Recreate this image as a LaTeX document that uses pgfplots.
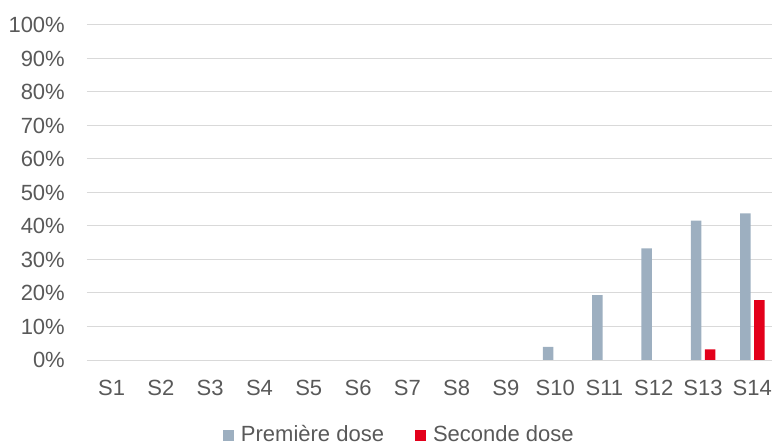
\documentclass[border=0pt]{standalone}
\usepackage{pgfplots}
\pgfplotsset{compat=1.18}
\usepackage{fontspec}
\setmainfont{Liberation Sans}
\definecolor{txt}{HTML}{595959}
\definecolor{gridc}{HTML}{D9D9D9}
\definecolor{c1}{HTML}{9DAFC0}
\definecolor{c2}{HTML}{E3001B}
\begin{document}
\begin{tikzpicture}
\begin{axis}[
  scale only axis, width=685bp, height=335bp,
  xmin=0.5, xmax=14.4, ymin=0, ymax=100,
  ybar=3.5bp, bar width=10.5bp,
  axis line style={draw=none},
  major tick length=0pt,
  ymajorgrids, grid style={gridc, line width=1bp},
  ytick={0,10,...,100},
  yticklabels={0\%,10\%,20\%,30\%,40\%,50\%,60\%,70\%,80\%,90\%,100\%},
  xtick={1,...,14},
  xticklabels={S1,S2,S3,S4,S5,S6,S7,S8,S9,S10,S11,S12,S13,S14},
  tick label style={font=\fontsize{22bp}{26bp}\selectfont, text=txt, inner sep=0pt},
  yticklabel style={anchor=east, xshift=-22bp},
  xticklabel style={anchor=north, yshift=-20bp},
  legend style={at={(0.456,-0.221)}, anchor=center, draw=none, fill=none,
    font=\fontsize{22bp}{26bp}\selectfont, text=txt,
    /tikz/every odd column/.append style={column sep=5bp},
    /tikz/every even column/.append style={column sep=29bp}},
  legend columns=2,
  legend image code/.code={\fill[#1] (0bp,-7bp) rectangle (11bp,4bp);},
]
\addplot[fill=c1, draw=none] coordinates {(10,3.9)(11,19.4)(12,33.3)(13,41.6)(14,43.8)};
\addplot[fill=c2, draw=none] coordinates {(13,3.2)(14,17.9)};
\legend{Première dose, Seconde dose}
\coordinate (ll) at (rel axis cs:0,0);
\coordinate (ur) at (rel axis cs:1,1);
\end{axis}
\pgfresetboundingbox
\path ([shift={(-87bp,-85bp)}]ll) rectangle ([shift={(0bp,25bp)}]ur);
\end{tikzpicture}
\end{document}
